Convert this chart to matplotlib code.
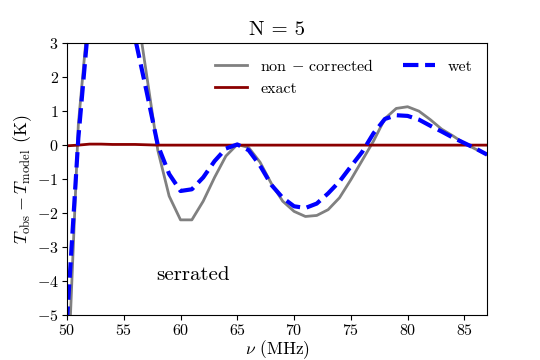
import numpy as np
import matplotlib
matplotlib.use("Agg")
import matplotlib.pyplot as plt

plt.rcParams['font.family'] = 'serif'
plt.rcParams['font.serif'] = ['cmr10']
plt.rcParams['mathtext.fontset'] = 'cm'
plt.rcParams['axes.formatter.use_mathtext'] = True

# frequency grid (MHz), 1 MHz steps
freq = np.arange(50, 88)

# residuals (K); values above 3 are off the axes
non_corrected = [-7.5, 0.6, 4.3, 7.0, 8.5, 7.5, 4.35, 2.1, -0.15, -1.5,
                 -2.2, -2.2, -1.65, -0.95, -0.32, 0.02, -0.07, -0.5, -1.13, -1.65,
                 -1.95, -2.1, -2.07, -1.9, -1.55, -1.02, -0.45, 0.12, 0.78, 1.08,
                 1.13, 1.0, 0.75, 0.47, 0.27, 0.05, -0.12, -0.28]
wet = [-5.2, 0.2, 4.0, 6.5, 7.5, 6.0, 3.15, 1.6, 0.0, -0.85,
       -1.35, -1.3, -0.95, -0.47, -0.1, 0.02, -0.15, -0.6, -1.17, -1.55,
       -1.8, -1.85, -1.72, -1.42, -1.07, -0.63, -0.2, 0.35, 0.77, 0.88,
       0.86, 0.75, 0.57, 0.4, 0.22, 0.06, -0.1, -0.28]
exact = [-0.02, 0.0, 0.03, 0.03, 0.02, 0.02, 0.02, 0.01, 0.0, 0.0,
         0.0, 0.0, 0.0, 0.0, 0.0, 0.0, 0.0, 0.0, 0.0, 0.0,
         0.0, 0.0, 0.0, 0.0, 0.0, 0.0, 0.0, 0.0, 0.0, 0.0,
         0.0, 0.0, 0.0, 0.0, 0.0, 0.0, 0.0, 0.0]

fig = plt.figure(figsize=(5.4, 3.6), dpi=100)
ax = fig.add_axes([0.124, 0.125, 0.778, 0.755])

ax.plot(freq, non_corrected, color='gray', lw=2, label=r'non $-$ corrected')
ax.plot(freq, exact, color='darkred', lw=2, label='exact')
ax.plot(freq, wet, color='blue', lw=3, ls='--', label='wet')

ax.set_xlim(50, 87)
ax.set_ylim(-5, 3)
ax.set_xticks(np.arange(50, 90, 5))
ax.set_yticks(np.arange(-5, 4, 1))
ax.tick_params(labelsize=11.5, pad=2.5)

ax.set_xlabel(r'$\nu$ (MHz)', fontsize=12.5)
ax.xaxis.set_label_coords(0.5, -0.086)
ax.set_ylabel(r'$T_{\rm obs} - T_{\rm model}$ (K)', fontsize=13, labelpad=2)
ax.set_title('N = 5', fontsize=15)

ax.text(61.1, -3.82, 'serrated', fontsize=15, ha='center', va='center')

ax.legend(loc='upper right', ncol=2, frameon=False, fontsize=11.5,
          columnspacing=1.8)

fig.savefig('out.png')
